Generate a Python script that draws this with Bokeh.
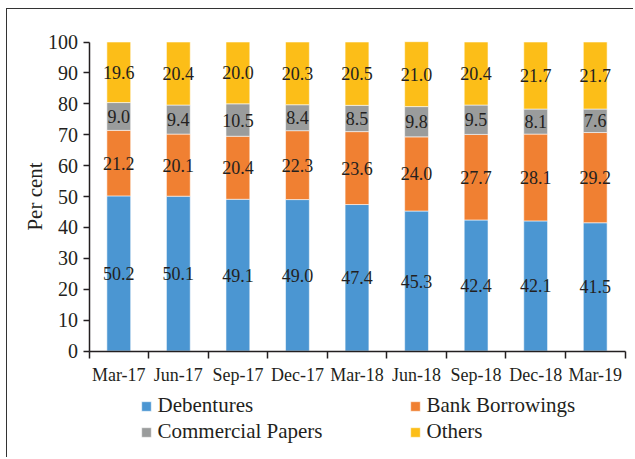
import math
from bokeh.plotting import figure
from bokeh.models import (ColumnDataSource, Range1d, FixedTicker, Legend, LegendItem, Label)
from bokeh.core.properties import value
from bokeh.embed import file_html
from bokeh.resources import INLINE

categories = ["Mar-17", "Jun-17", "Sep-17", "Dec-17", "Mar-18", "Jun-18", "Sep-18", "Dec-18", "Mar-19"]
debentures = [50.2, 50.1, 49.1, 49.0, 47.4, 45.3, 42.4, 42.1, 41.5]
bank_borrowings = [21.2, 20.1, 20.4, 22.3, 23.6, 24.0, 27.7, 28.1, 29.2]
commercial_papers = [9.0, 9.4, 10.5, 8.4, 8.5, 9.8, 9.5, 8.1, 7.6]
others = [19.6, 20.4, 20.0, 20.3, 20.5, 21.0, 20.4, 21.7, 21.7]
y_ticks = [0, 10, 20, 30, 40, 50, 60, 70, 80, 90, 100]

series_names = ["Debentures", "Bank Borrowings", "Commercial Papers", "Others"]
series_keys = ["deb", "bank", "cp", "oth"]
colors = ["#4B96D2", "#F08032", "#9A9C9C", "#FCBE18"]

FONT = "Liberation Serif"
TXT = "#231F20"

n = len(categories)
xs = [i + 0.5 for i in range(n)]
data = dict(x=xs, deb=debentures, bank=bank_borrowings, cp=commercial_papers, oth=others)
source = ColumnDataSource(data)

# layout (pixels on the page)
W, H = 627, 449
ox, oy = 7.5, 9.5                 # canvas origin on page
ax_left, ax_right = 89.0, 625.0   # x axis extent
ax_top, ax_bottom = 42.0, 351.0   # y=100 and y=0
ppx = (ax_right - ax_left) / n
ppy = (ax_bottom - ax_top) / 100.0
x_min = -(ax_left - ox) / ppx
x_max = n + (ox + W - ax_right) / ppx
y_max = 100 + (ax_top - oy) / ppy
y_min = -(oy + H - ax_bottom) / ppy

p = figure(width=W, height=H, output_backend="svg", toolbar_location=None,
           x_range=Range1d(x_min, x_max), y_range=Range1d(y_min, y_max),
           min_border_left=0, min_border_right=0, min_border_top=0, min_border_bottom=0,
           styles={"border-left": "1.5px solid #333", "border-top": "1.5px solid #333",
                   "margin-left": "6px", "margin-top": "8px"})
p.outline_line_color = None
p.xgrid.grid_line_color = None
p.ygrid.grid_line_color = None

renderers = p.vbar_stack(series_keys, x="x", width=0.4, source=source, color=colors,
                         line_color="white", line_width=0.8, line_alpha=0.7)

# value labels
values = [debentures, bank_borrowings, commercial_papers, others]
lx, ly, lt = [], [], []
for i in range(n):
    base = 0.0
    for s in values:
        v = s[i]
        lx.append(xs[i])
        ly.append(base + v / 2.0)
        lt.append(f"{v:.1f}")
        base += v
p.text(x=lx, y=ly, text=lt, text_align="center", text_baseline="middle",
       text_font=value(FONT), text_font_size="18px", text_color=TXT)

# axes
xa = p.xaxis[0]
xa.fixed_location = 0
xa.bounds = (0, n)
xa.ticker = FixedTicker(ticks=xs, minor_ticks=list(range(n + 1)))
xa.major_label_overrides = {x: c for x, c in zip(xs, categories)}
xa.major_tick_out = 0
xa.major_tick_in = 0
xa.minor_tick_out = 7
xa.minor_tick_in = 0
xa.minor_tick_line_color = TXT
xa.minor_tick_line_width = 1.5
xa.axis_line_color = TXT
xa.axis_line_width = 1.5
xa.major_label_text_font = FONT
xa.major_label_text_font_size = "18px"
xa.major_label_text_color = TXT
xa.major_label_standoff = 7

ya = p.yaxis[0]
ya.fixed_location = 0
ya.bounds = (0, 100)
ya.ticker = FixedTicker(ticks=y_ticks)
ya.major_tick_out = 6
ya.major_tick_in = 0
ya.minor_tick_out = 0
ya.minor_tick_in = 0
ya.major_tick_line_color = TXT
ya.major_tick_line_width = 1.5
ya.axis_line_color = TXT
ya.axis_line_width = 1.5
ya.major_label_text_font = FONT
ya.major_label_text_font_size = "20px"
ya.major_label_text_color = TXT
ya.major_label_standoff = 5

ylab = Label(x=x_min + (34.5 - ox) / ppx, y=50, text="Per cent", angle=math.pi / 2,
             text_align="center", text_baseline="middle",
             text_font=FONT, text_font_size="21px", text_color=TXT)
p.add_layout(ylab)

def make_legend(idx, loc):
    items = [LegendItem(label=series_names[i], renderers=[renderers[i]]) for i in idx]
    lg = Legend(items=items, location=loc, orientation="vertical",
                padding=0, margin=0, spacing=0, border_line_color=None,
                background_fill_alpha=0, glyph_width=12, glyph_height=12,
                label_standoff=6, label_height=26,
                label_text_font=FONT, label_text_font_size="21px", label_text_color=TXT)
    p.add_layout(lg, "center")

make_legend([0, 2], (140 - ox, oy + H - 445))
make_legend([1, 3], (409 - ox, oy + H - 445))

open("out.html", "w").write(file_html(p, INLINE))
